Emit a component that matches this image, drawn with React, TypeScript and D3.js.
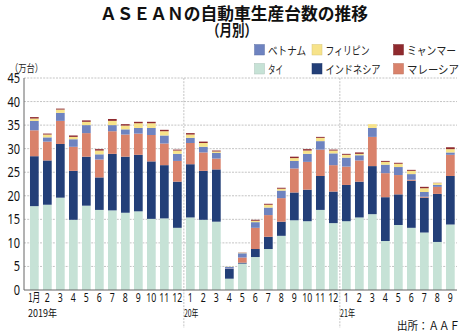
import React from "react";
import * as d3 from "d3";

const months = ["1月","2","3","4","5","6","7","8","9","10","11","12","1","2","3","4","5","6","7","8","9","10","11","12","1","2","3","4","5","6","7","8","9"];
const yearLabels = ["2019年", "20年", "21年"];
const seriesNames = ["タイ", "インドネシア", "マレーシア", "ベトナム", "フィリピン", "ミャンマー"];
const thailand = [17.8,18.1,19.6,14.9,17.9,17.0,16.9,16.4,16.7,15.1,15.2,13.2, 15.4,14.9,14.5,2.4,5.6,7.0,8.7,11.5,14.8,14.6,17.0,14.2, 14.6,15.4,16.1,10.4,13.8,13.2,12.2,10.2,13.9];
const indonesia = [10.6,9.4,11.4,10.4,10.4,6.9,12.0,11.9,12.0,12.2,11.3,9.8, 11.3,10.4,11.1,2.1,0.2,1.7,2.6,3.0,5.9,6.7,7.2,6.7, 7.7,7.6,10.2,9.3,6.5,10.0,7.4,10.2,10.3];
const malaysia = [5.5,4.0,4.9,5.1,5.0,3.8,4.8,4.7,4.5,5.6,4.6,4.4, 4.5,3.9,2.3,0.05,1.1,4.5,4.6,5.0,5.1,5.9,5.6,5.6, 3.9,4.5,6.2,5.1,4.1,0.2,0.2,1.5,4.5];
const vietnam = [2.0,0.9,1.7,1.6,1.7,1.1,1.3,1.1,1.2,1.5,1.7,1.5, 1.1,1.2,1.2,0.35,0.9,1.2,1.6,1.6,1.6,1.7,1.8,2.5, 1.9,1.1,1.9,1.8,1.7,1.2,1.0,0.4,0.5];
const philippines = [0.5,0.6,0.7,0.5,0.7,0.8,0.9,0.8,1.0,1.0,0.9,0.7, 0.7,0.8,0.3,0.05,0.1,0.3,0.6,0.4,0.6,0.7,0.7,0.6, 0.6,0.3,0.8,0.6,0.7,0.7,0.8,0.4,0.7];
const myanmar = [0.3,0.2,0.2,0.3,0.3,0.3,0.4,0.3,0.3,0.3,0.3,0.2, 0.3,0.3,0.2,0.0,0.05,0.2,0.2,0.2,0.3,0.3,0.2,0.2, 0.2,0.3,0.0,0.2,0.2,0.2,0.3,0.05,0.4];
const yTicks = [0,5,10,15,20,25,30,35,40,45];

const colors = ["#c6e2d6", "#233f78", "#d9826b", "#6e83c0", "#f7e38a", "#8f2a2e"];
const legendOrder = [[3, 4, 5], [0, 1, 2]];
const legendWidths = [[38, 44, 49], [15, 55, 52]];

const JP = "'Noto Sans CJK JP', sans-serif";
const NUM = "'Noto Sans', 'DejaVu Sans', sans-serif";

export default function App() {
  const W = 465, H = 334;
  const ids = months.map((_, i) => String(i));
  const x = d3.scaleBand<string>().domain(ids).range([25.7, 459]).paddingInner(0.33).paddingOuter(0.33);
  const y = d3.scaleLinear().domain([0, 45]).range([290, 78]);
  const table = months.map((_, i) => ({
    id: String(i),
    s0: thailand[i], s1: indonesia[i], s2: malaysia[i], s3: vietnam[i], s4: philippines[i], s5: myanmar[i],
  }));
  const stack = d3.stack<any>().keys(["s0","s1","s2","s3","s4","s5"]);
  const layers = stack(table);
  const sepX = [11, 23].map(k => x(String(k))! + x.bandwidth() + (x.step() - x.bandwidth()) / 2);
  const axisLeft = 24;
  const axisRight = 457;

  return (
    <svg width={W} height={H} style={{ display: "block", position: "absolute", left: 0, top: 0 }}>
      <rect width={W} height={H} fill="#fff" />
      <text x={100} y={19.5} textLength={268} lengthAdjust="spacingAndGlyphs" fontFamily={JP} fontWeight={700} fontSize={17} fill="#111">ＡＳＥＡＮの自動車生産台数の推移</text>
      <text x={207} y={36} textLength={50} lengthAdjust="spacingAndGlyphs" fontFamily={JP} fontWeight={700} fontSize={15.5} fill="#111">（月別）</text>

      {legendOrder.map((row, r) => row.map((si, c) => {
        const lx = [254, 311.5, 393][c];
        const ly = [49.5, 68.5][r];
        return (
          <g key={`lg${r}${c}`}>
            <rect x={lx + 0.5} y={ly - 5} width={10} height={10.5} fill={colors[si]} stroke={d3.color(colors[si])!.darker(0.4).toString()} strokeWidth={0.5} />
            <text x={lx + 14} y={ly + 5} textLength={legendWidths[r][c]} lengthAdjust="spacingAndGlyphs" fontFamily={JP} fontSize={11.5} fill="#222">{seriesNames[si]}</text>
          </g>
        );
      }))}

      <text x={10} y={71.5} textLength={33} lengthAdjust="spacingAndGlyphs" fontFamily={JP} fontSize={10.5} fill="#222">（万台）</text>

      {yTicks.filter(t => t > 0).map(t => (
        <line key={`g${t}`} x1={axisLeft} x2={axisRight} y1={y(t)} y2={y(t)} stroke="#b5b5b5" strokeWidth={0.8} strokeDasharray="2,1.2" />
      ))}
      {sepX.map((sx, i) => (
        <line key={`sep${i}`} x1={sx} x2={sx} y1={78} y2={328} stroke="#b5b5b5" strokeWidth={0.8} strokeDasharray="2,1.2" />
      ))}

      {layers.map((layer, li) => (
        <g key={`l${li}`} fill={colors[li]}>
          {layer.map((d, i) => {
            const h = y(d[0]) - y(d[1]);
            if (h <= 0) return null;
            return <rect key={i} x={x(String(i))} y={y(d[1])} width={x.bandwidth()} height={h} />;
          })}
        </g>
      ))}

      <line x1={axisLeft} x2={axisLeft} y1={78} y2={290} stroke="#666" strokeWidth={1} />
      <line x1={axisLeft} x2={axisRight} y1={290} y2={290} stroke="#666" strokeWidth={1} />
      {yTicks.map(t => {
        const s = String(t);
        return (
          <text key={`t${t}`} x={20 - s.length * 6.3} y={y(t) + 5} textLength={s.length * 6.3} lengthAdjust="spacingAndGlyphs" fontFamily={NUM} fontSize={13.5} fill="#111">{s}</text>
        );
      })}

      {months.map((m, i) => {
        const cx = x(String(i))! + x.bandwidth() / 2;
        const w = m === "1月" ? 12 : m.length * 5;
        return (
          <text key={`m${i}`} x={cx - w / 2} y={301.5} textLength={w} lengthAdjust="spacingAndGlyphs" fontFamily={m === "1月" ? JP : NUM} fontSize={12} fill="#111">{m}</text>
        );
      })}
      {[0, 12, 24].map((k, i) => {
        const w = [29, 14.5, 15][i];
        return (
          <text key={`yl${i}`} x={x(String(k))! - 2} y={316.5} textLength={w} lengthAdjust="spacingAndGlyphs" fontFamily={JP} fontSize={10.5} fill="#111">{yearLabels[i]}</text>
        );
      })}

      <text x={397} y={330} textLength={63} lengthAdjust="spacingAndGlyphs" fontFamily={JP} fontSize={11} fill="#111">出所：ＡＡＦ</text>
    </svg>
  );
}
